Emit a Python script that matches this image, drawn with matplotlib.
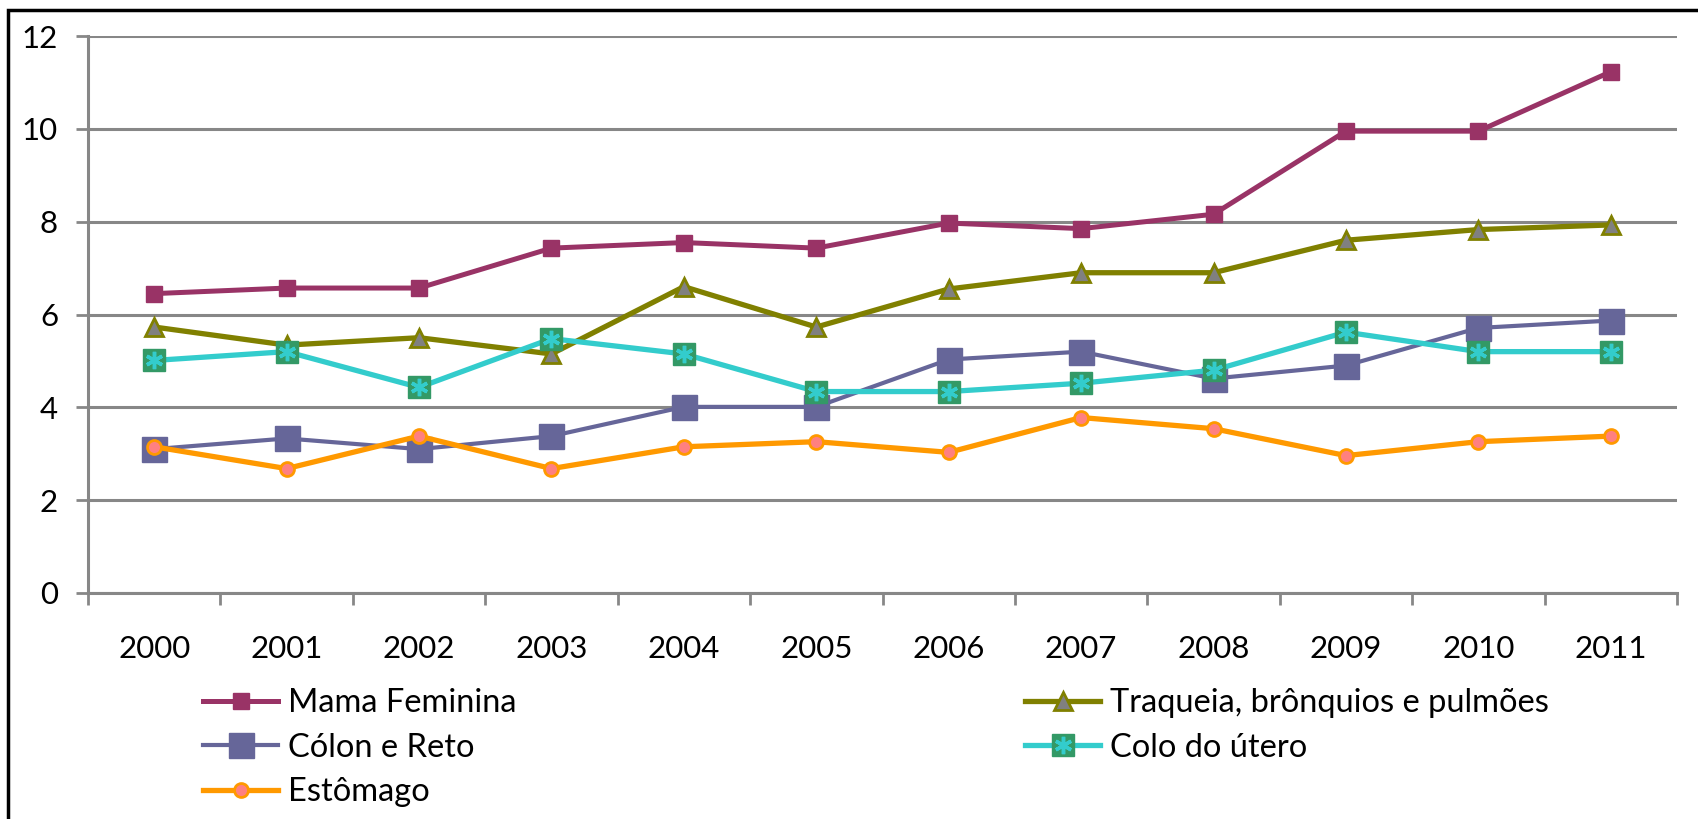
import matplotlib
matplotlib.use("Agg")
import matplotlib.pyplot as plt
from matplotlib.patches import Rectangle
from matplotlib.legend_handler import HandlerTuple
import numpy as np

plt.rcParams['font.family'] = ['Lato', 'DejaVu Sans']

years = ['2000', '2001', '2002', '2003', '2004', '2005', '2006', '2007', '2008', '2009', '2010', '2011']
mama = [6.45, 6.57, 6.57, 7.43, 7.55, 7.43, 7.97, 7.85, 8.16, 9.95, 9.95, 11.23]
traqueia = [5.73, 5.34, 5.50, 5.15, 6.60, 5.73, 6.55, 6.90, 6.90, 7.60, 7.83, 7.93]
colon = [3.10, 3.33, 3.10, 3.38, 4.01, 4.01, 5.03, 5.20, 4.62, 4.90, 5.71, 5.87]
colo_utero = [5.01, 5.20, 4.43, 5.48, 5.15, 4.34, 4.34, 4.52, 4.80, 5.62, 5.20, 5.20]
estomago = [3.15, 2.68, 3.38, 2.68, 3.15, 3.26, 3.03, 3.78, 3.54, 2.96, 3.26, 3.38]
yticks = [0, 2, 4, 6, 8, 10, 12]

W, H = 1698, 819
fig = plt.figure(figsize=(W / 100, H / 100), dpi=100)
ax = fig.add_axes([88 / W, 1 - 593 / H, (1677 - 88) / W, (593 - 36) / H])

x = np.arange(len(years))
grid_c = '#878787'

h_mama, = ax.plot(x, mama, color='#993366', lw=3.6, marker='s', ms=11.5,
                  mfc='#993366', mec='#993366', zorder=5)
h_tra, = ax.plot(x, traqueia, color='#808000', lw=3.8, marker='^', ms=13,
                 mfc='#808080', mec='#808000', mew=2, zorder=4)
h_col, = ax.plot(x, colon, color='#666699', lw=3.0, marker='s', ms=18,
                 mfc='#666699', mec='#666699', zorder=3)
h_cu, = ax.plot(x, colo_utero, color='#33CCCC', lw=3.8, marker='s', ms=16,
                mfc='#339966', mec='#339966', zorder=4)
h_cu2, = ax.plot(x, colo_utero, ls='none', marker=(6, 2, 0), ms=12.5,
                 mec='#33CCCC', mew=2.5, zorder=4.1)
h_est, = ax.plot(x, estomago, color='#FF9900', lw=3.8, marker='o', ms=10,
                 mfc='#FF8080', mec='#FF9900', mew=2, zorder=6)

ax.set_xlim(-0.5, len(years) - 0.5)
ax.set_ylim(0, 12)
ax.set_yticks(yticks)
ax.set_yticklabels([str(v) for v in yticks])
ax.yaxis.grid(True, color=grid_c, lw=2.2)
ax.set_axisbelow(True)

ax.set_xticks(np.arange(-0.5, len(years)), labels=[])
ax.set_xticks(x, labels=years, minor=True)
ax.tick_params(axis='x', which='major', length=8.6, width=2, color=grid_c, direction='out')
ax.tick_params(axis='x', which='minor', length=0, pad=30, labelsize=22.5)
ax.tick_params(axis='y', length=8.6, width=2, color=grid_c, direction='out', pad=13, labelsize=22.5)

for s in ['top', 'right']:
    ax.spines[s].set_visible(False)
for s in ['left', 'bottom']:
    ax.spines[s].set_color(grid_c)
    ax.spines[s].set_linewidth(2.2)

leg_kw = dict(loc='upper left', frameon=False, fontsize=23.5, borderpad=0,
              borderaxespad=0, handlelength=2.3, handletextpad=0.3,
              labelspacing=0.45, handler_map={tuple: HandlerTuple(ndivide=1)})
fig.legend([h_mama, h_col, h_est], ['Mama Feminina', 'Cólon e Reto', 'Estômago'],
           bbox_to_anchor=(203 / W, 1 - 688 / H), **leg_kw)
fig.legend([h_tra, (h_cu, h_cu2)], ['Traqueia, brônquios e pulmões', 'Colo do útero'],
           bbox_to_anchor=(1025 / W, 1 - 688 / H), **leg_kw)

fig.patches.append(Rectangle((8 / W, -0.1), 1.2, 1 - 10.5 / H + 0.1, transform=fig.transFigure,
                             fill=False, edgecolor='black', lw=2.5))

fig.savefig('out.png', dpi=100)
